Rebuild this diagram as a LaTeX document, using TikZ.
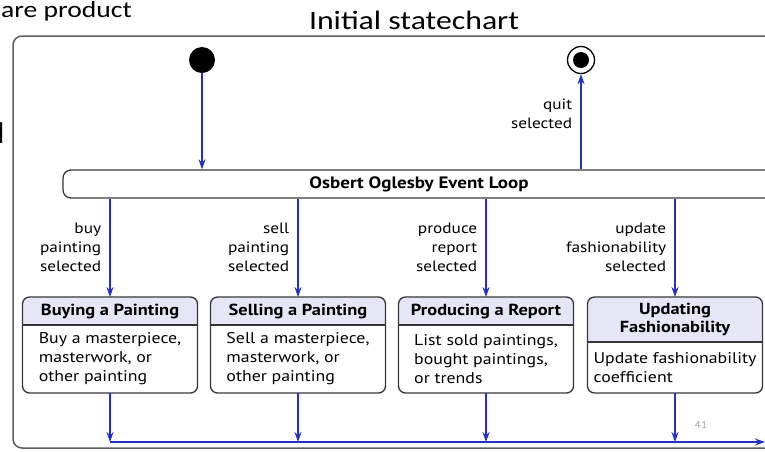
\documentclass[tikz,border=0pt]{standalone}
\usepackage{fontspec}
\setmainfont{PT Sans}[FakeStretch=1.15]
\newfontfamily\slidefont{Carlito}[FakeStretch=1.2]
\usetikzlibrary{arrows.meta,positioning,backgrounds}

\definecolor{flowblue}{RGB}{38,48,200}
\definecolor{edgegray}{RGB}{55,55,55}
\definecolor{framegray}{RGB}{95,95,95}
\definecolor{headfill}{RGB}{230,230,246}

\tikzset{
  flow/.style={draw=flowblue,line width=1.7pt,-{Stealth[length=10pt,width=7pt]}},
  guard/.style={font=\fontsize{15}{19}\selectfont,align=right,anchor=east,inner sep=0pt,xshift=-8pt},
  stateline/.style={draw=edgegray,line width=1.3pt},
  statehead/.style={minimum width=175pt,minimum height=28pt,inner sep=0pt,outer sep=0pt,
    anchor=north,align=center,font=\fontsize{16}{18}\selectfont\bfseries},
  statebody/.style={below=0pt of #1,minimum width=175pt,minimum height=68pt,inner sep=0pt,
    outer sep=0pt,align=left,font=\fontsize{15.5}{19}\selectfont},
  loopbox/.style={draw=edgegray,line width=1.3pt,rounded corners=8pt,minimum width=712pt,
    minimum height=28pt,inner sep=0pt,font=\fontsize{16.5}{18}\selectfont\bfseries},
  slidetext/.style={font=\slidefont\fontsize{26.5}{30}\selectfont,inner sep=0pt}
}

\begin{document}
\begin{tikzpicture}[x=1pt,y=-1pt]
  \useasboundingbox (0,0) rectangle (765,451);

  % slide text around the chart
  \node[slidetext,font=\slidefont\fontsize{23}{26}\selectfont,anchor=base west] (prev) at (1,17) {are product};
  \node[slidetext,anchor=base] (title) at (414,29) {Initial statechart};
  \node[slidetext,font=\slidefont\fontsize{30}{34}\selectfont,anchor=base east] (cut) at (5,143) {d};
  \node[font=\fontsize{10}{12}\selectfont,text=black!35,inner sep=0pt] (pageno) at (701,425) {41};

  % frame
  \draw[framegray,line width=1.5pt,rounded corners=9pt] (13,36) rectangle (790,448);

  % start and end
  \node[circle,fill=black,minimum size=26pt,inner sep=0pt] (init) at (202,60) {};
  \node[circle,draw=black,line width=1.3pt,minimum size=27pt,inner sep=0pt] (final) at (581,60) {};
  \node[circle,fill=black,minimum size=16pt,inner sep=0pt] (finaldot) at (final) {};

  \node[loopbox] (loop) at (419,184) {Osbert Oglesby Event Loop};

  % the four states
  \node[statehead] (buy-h) at (110,297) {Buying a Painting};
  \node[statebody=buy-h] (buy-b) {Buy a masterpiece,\\masterwork, or\\other painting};
  \node[statehead] (sell-h) at (298,297) {Selling a Painting};
  \node[statebody=sell-h] (sell-b) {Sell a masterpiece,\\masterwork, or\\other painting};
  \node[statehead] (report-h) at (486,297) {Producing a Report};
  \node[statebody=report-h] (report-b) {List sold paintings,\\bought paintings,\\or trends};
  \node[statehead,minimum height=45pt] (fashion-h) at (675,297) {Updating\\Fashionability};
  \node[statebody=fashion-h,minimum height=51pt] (fashion-b) {Update fashionability\\coefficient};

  \coordinate (exit) at (765,442);

  \draw[flow] (init) -- (init |- loop.north);
  \draw[flow] (loop.north -| final) -- node[guard,pos=0.58] {quit\\selected} (final.south);

  \draw[flow] (loop.south -| buy-h) -- node[guard] {buy\\painting\\selected} (buy-h.north);
  \draw[flow] (loop.south -| sell-h) -- node[guard] {sell\\painting\\selected} (sell-h.north);
  \draw[flow] (loop.south -| report-h) -- node[guard] {produce\\report\\selected} (report-h.north);
  \draw[flow] (loop.south -| fashion-h) -- node[guard] {update\\fashionability\\selected} (fashion-h.north);

  \foreach \s in {buy,sell,report,fashion} {
    \begin{scope}[on background layer]
      \fill[headfill] (\s-h.south west) {[rounded corners=7pt] -- (\s-h.north west) -- (\s-h.north east)}
        -- (\s-h.south east) -- cycle;
    \end{scope}
    \draw[stateline,rounded corners=7pt] (\s-h.north west) rectangle (\s-b.south east);
    \draw[stateline] (\s-h.south west) -- (\s-h.south east);
    \draw[flow] (\s-b.south) -- (\s-b.south |- exit);
  }
  \draw[flow] (buy-b.south |- exit) -- (exit);
\end{tikzpicture}
\end{document}
